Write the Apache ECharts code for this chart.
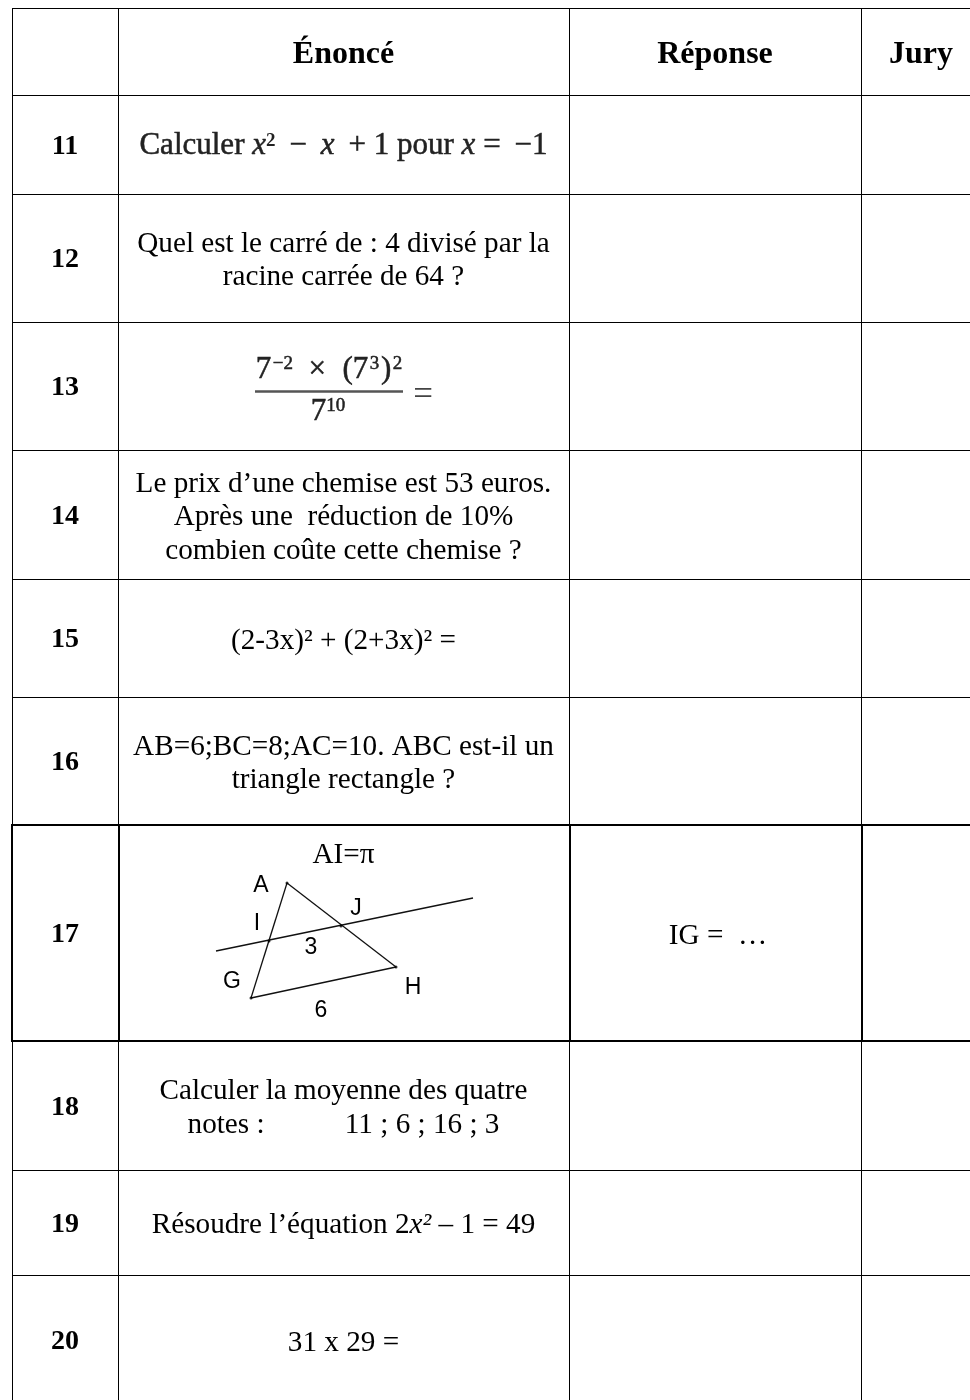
<!DOCTYPE html>
<html>
<head>
<meta charset="utf-8">
<style>html,body{margin:0;padding:0;background:#fff}#main{width:970px;height:1400px}</style>
<script src="https://cdn.jsdelivr.net/npm/echarts@6/dist/echarts.min.js"></script>
</head>
<body>
<div id="main"></div>
<script>
// table grid, in picture units (last edges run past the crop)
const colEdges = [12, 118, 569, 861, 981];
const rowEdges = [8, 95, 194, 322, 450, 579, 697, 825, 1041, 1170, 1275, 1405];
const thickRow = 7; // row 17 has the heavy border

const headers = ['', 'Énoncé', 'Réponse', 'Jury'];
const rowNumbers = ['11', '12', '13', '14', '15', '16', '17', '18', '19', '20'];
const statements = [
    '{m|Calculer }{mi|x}{sup|2}{m|\u2009 −\u2009 }{mi|x}{m|\u2009 + 1 pour }{mi|x}{m| =\u2009 −1}',
    'Quel est le carré de : 4 divisé par la\nracine carrée de 64 ?',
    '',
    'Le prix d’une chemise est 53 euros.\nAprès une  réduction de 10%\ncombien coûte cette chemise ?',
    '(2-3x)² + (2+3x)² =',
    'AB=6;BC=8;AC=10. ABC est-il un\ntriangle rectangle ?',
    '',
    'Calculer la moyenne des quatre\nnotes :           11 ; 6 ; 16 ; 3',
    'Résoudre l’équation 2{i|x²} – 1 = 49',
    '31 x 29 ='
];

// row 13 fraction
const fracTop = '{m|7}{sup2|\u200a−2}{m|\u2002×\u200a \u2009(7}{sup2|\u200a3\u200a}{m|)}{sup2|\u200a2}';
const fracBottom = '{m|7}{sup2|10}';
const fracBar = [[255, 391.5], [403, 391.5]];
const fracEquals = [423, 396];

// row 17 figure
const figTitle = 'AI=π';
const figAnswer = 'IG =  …';
const ptA = [287, 883], ptG = [251, 998], ptH = [396, 967], ptI = [269, 941], ptJ = [341, 926];
const secantLine = [[216, 951], [473, 898]];
const figLabels = [
    ['A', 261, 886], ['I', 257, 924], ['J', 356, 909], ['3', 311, 948],
    ['G', 232, 982], ['H', 413, 988], ['6', 321, 1011]
];

const centre = (a, i) => (a[i] + a[i + 1]) / 2;

// segments: [x1, y1, x2, y2, width, colour]
const segments = [];
colEdges.forEach((x, c) => {
    if (c === colEdges.length - 1) return;
    rowEdges.forEach((y, r) => {
        if (r === rowEdges.length - 1) return;
        if (r === thickRow) {
            const px = c === 0 ? x : x + 1;
            segments.push([px, y, px, rowEdges[r + 1], 2, '#000']);
        } else {
            segments.push([x + 0.5, y, x + 0.5, rowEdges[r + 1], 1, '#000']);
        }
    });
});
rowEdges.forEach((y, r) => {
    if (r === rowEdges.length - 1) return;
    if (r === thickRow || r === thickRow + 1) {
        segments.push([colEdges[0] - 1, y, 970, y, 2, '#000']);
    } else {
        segments.push([colEdges[0], y + 0.5, 970, y + 0.5, 1, '#000']);
    }
});
[[ptA, ptG], [ptA, ptH], [ptG, ptH], secantLine].forEach(s => {
    segments.push([s[0][0], s[0][1], s[1][0], s[1][1], 1.3, '#111']);
});
segments.push([fracBar[0][0], fracBar[0][1], fracBar[1][0], fracBar[1][1], 2.5, '#555']);

const serif = '"Liberation Serif"';
const sans = '"Liberation Sans"';
const bodyRich = {
    i: {fontFamily: serif, fontSize: 29.2, fontStyle: 'italic', fill: '#000'}
};
// the picture's formulas are slightly fuzzy and heavy, a thin outline gets near that
const inkOutline = {stroke: '#222', lineWidth: 0.5};
const mathRich = {
    m: {fontFamily: serif, fontSize: 31, fill: '#222', lineHeight: 30, verticalAlign: 'bottom', ...inkOutline},
    mi: {fontFamily: serif, fontSize: 31, fontStyle: 'italic', fill: '#222', lineHeight: 30, verticalAlign: 'bottom', ...inkOutline},
    eq: {fontFamily: serif, fontSize: 35, fill: '#444', lineHeight: 30},
    sup: {fontFamily: serif, fontSize: 19, fontWeight: 'bold', fill: '#222', lineHeight: 18, verticalAlign: 'top'},
    sup2: {fontFamily: serif, fontSize: 19, fill: '#222', lineHeight: 16, verticalAlign: 'top', ...inkOutline}
};

// labels: [text, x, y, kind]
const labels = [];
headers.forEach((t, c) => {
    if (t) labels.push([t, centre(colEdges, c), 52, 'head']);
});
rowNumbers.forEach((t, r) => {
    labels.push([t, centre(colEdges, 0), centre(rowEdges, r + 1), 'num']);
    const s = statements[r];
    if (s) labels.push([s, centre(colEdges, 1), centre(rowEdges, r + 1) + (r === 0 ? 2 : 0), r === 0 ? 'math' : 'body']);
});
labels.push([fracTop, 329, 370, 'math']);
labels.push([fracBottom, 328, 412, 'math']);
labels.push(['{eq|=}', fracEquals[0], fracEquals[1], 'math']);
labels.push([figTitle, centre(colEdges, 1), 852, 'body']);
labels.push([figAnswer, centre(colEdges, 2) + 3, centre(rowEdges, thickRow), 'body']);
figLabels.forEach(l => labels.push([l[0], l[1], l[2], 'fig']));

const fontOf = {
    head: 'bold 32px ' + serif,
    num: 'bold 28px ' + serif,
    body: '29.2px ' + serif,
    math: '31px ' + serif,
    fig: '23px ' + sans
};
const nudgeOf = {head: 3, num: 2, body: 3, math: 0, fig: 0};

const chart = echarts.init(document.getElementById('main'));
chart.setOption({
    animation: false,
    backgroundColor: '#fff',
    grid: {left: 0, right: 0, top: 0, bottom: 0},
    xAxis: {type: 'value', min: 0, max: 970, show: false},
    yAxis: {type: 'value', min: 0, max: 1400, inverse: true, show: false},
    series: [
        {
            type: 'custom',
            silent: true,
            clip: true,
            data: segments,
            encode: {x: [0, 2], y: [1, 3]},
            renderItem: function (params, api) {
                const p1 = api.coord([api.value(0), api.value(1)]);
                const p2 = api.coord([api.value(2), api.value(3)]);
                const seg = segments[params.dataIndex];
                return {
                    type: 'line',
                    shape: {x1: p1[0], y1: p1[1], x2: p2[0], y2: p2[1]},
                    style: {stroke: seg[5], lineWidth: seg[4]}
                };
            }
        },
        {
            type: 'scatter',
            silent: true,
            symbol: 'circle',
            symbolSize: 3,
            itemStyle: {color: '#000'},
            data: [ptA, ptG, ptH, ptI, ptJ]
        },
        {
            type: 'custom',
            silent: true,
            data: labels.map(l => [l[1], l[2]]),
            encode: {x: 0, y: 1},
            renderItem: function (params, api) {
                const l = labels[params.dataIndex];
                const p = api.coord([api.value(0), api.value(1)]);
                return {
                    type: 'text',
                    style: {
                        text: l[0],
                        x: p[0],
                        y: p[1] + nudgeOf[l[3]],
                        align: 'center',
                        verticalAlign: 'middle',
                        font: fontOf[l[3]],
                        fill: l[3] === 'math' ? '#222' : '#000',
                        lineHeight: l[3] === 'body' ? 33.6 : undefined,
                        rich: l[3] === 'math' ? mathRich : (l[3] === 'body' ? bodyRich : undefined)
                    }
                };
            }
        }
    ]
});
</script>
</body>
</html>
